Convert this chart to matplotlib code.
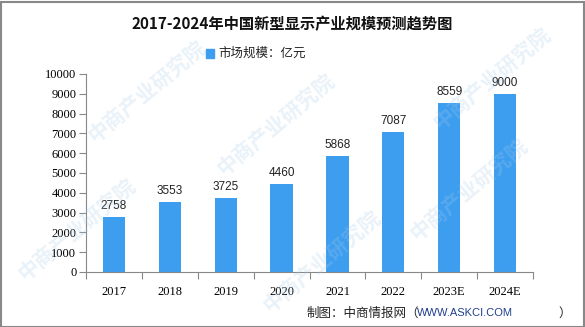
import numpy as np
import matplotlib.pyplot as plt
from matplotlib.patches import Rectangle

plt.rcParams['font.family'] = ['Noto Sans CJK SC', 'DejaVu Sans']

years = ['2017', '2018', '2019', '2020', '2021', '2022', '2023E', '2024E']
scale = [2758, 3553, 3725, 4460, 5868, 7087, 8559, 9000]
yticks = [0, 1000, 2000, 3000, 4000, 5000, 6000, 7000, 8000, 9000, 10000]

bar_color = '#3d9ef0'

fig = plt.figure(figsize=(5.85, 3.27), dpi=100)
ax = fig.add_axes([86 / 585, 1 - 272 / 327, (533 - 86) / 585, (272 - 74) / 327])

x = np.arange(len(years))
ax.bar(x, scale, width=0.4, color=bar_color, zorder=2)
for xi, v in zip(x, scale):
    ax.text(xi, v + 250, str(v), ha='center', va='bottom', fontsize=8.5,
            family='Liberation Sans', color='#222222')

ax.set_xlim(-0.5, len(years) - 0.5)
ax.set_ylim(0, 10000)
ax.set_yticks(yticks)
ax.set_yticklabels([str(t) for t in yticks], family='Liberation Serif', fontsize=9)
ax.set_xticks(np.arange(len(years) + 1) - 0.5, minor=False)
ax.set_xticklabels([])
ax.set_xticks(x, minor=True)
ax.set_xticklabels(years, minor=True, family='Liberation Serif', fontsize=9)
ax.tick_params(axis='x', which='major', length=5, color='#888888')
ax.tick_params(axis='x', which='minor', length=0, pad=10)
ax.tick_params(axis='y', length=5, color='#888888', pad=2)
for side in ['top', 'right']:
    ax.spines[side].set_visible(False)
for side in ['left', 'bottom']:
    ax.spines[side].set_color('#888888')

# title and legend
fig.text(0.5, 1 - 24 / 327, '2017-2024年中国新型显示产业规模预测趋势图', ha='center', va='center',
         fontsize=11, fontweight='bold', color='#111111')
fig.patches.append(Rectangle((206 / 585, 1 - 58 / 327), 8 / 585, 9 / 327,
                             transform=fig.transFigure, color=bar_color))
fig.text(218 / 585, 1 - 53 / 327, '市场规模：亿元', ha='left', va='center', fontsize=9, color='#222222')

# source line
fig.text(419 / 585, 1 - 313 / 327, '制图：中商情报网（', ha='right', va='center', fontsize=9, color='#222222')
fig.text(417 / 585, 1 - 313 / 327, 'WWW.ASKCI.COM', ha='left', va='center', fontsize=8,
         color='#1f3f8f', family='Liberation Sans')
fig.text(558 / 585, 1 - 313 / 327, '）', ha='left', va='center', fontsize=9, color='#222222')

# faint watermark
for wx, wy in [(0.13, 0.3), (0.25, 0.72), (0.47, 0.62), (0.55, 0.2), (0.8, 0.42), (0.84, 0.76)]:
    fig.text(wx, wy, '中商产业研究院', rotation=40, fontsize=15, fontweight='bold',
             color='#a8cbea', alpha=0.25, ha='center', va='center', zorder=0)

# frame
fig.patches.append(Rectangle((0.5 / 585, 0.5 / 327), 583 / 585, 325 / 327, transform=fig.transFigure,
                             fill=False, edgecolor='#888888', linewidth=1.5))

fig.savefig('out.png', dpi=100)
